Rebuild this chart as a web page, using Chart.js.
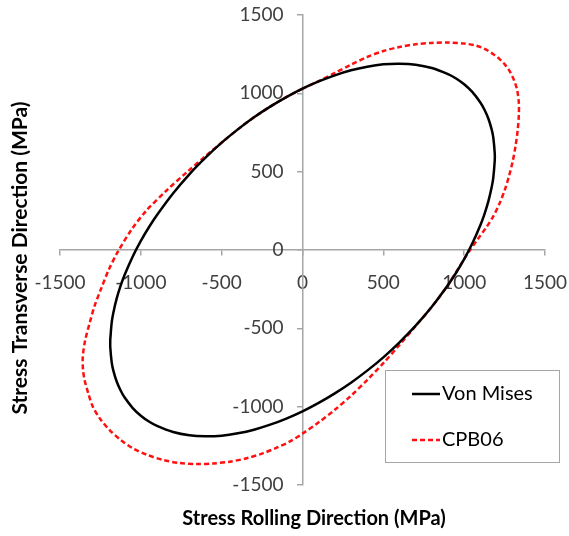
<!DOCTYPE html>
<html>
<head>
<meta charset="utf-8">
<script src="https://cdn.jsdelivr.net/npm/chart.js@4.4.0/dist/chart.umd.min.js"></script>
<style>
  html, body { margin: 0; padding: 0; background: #fff; }
  #wrap { width: 569px; height: 536px; }
</style>
</head>
<body>
<div id="wrap"><canvas id="yieldChart" width="569" height="536"></canvas></div>
<script>
// ===================================
// DATA
// ===================================

const tickValues = [-1500, -1000, -500, 0, 500, 1000, 1500];

// Von Mises locus, upper branch left -> right, then lower branch right -> left
const vonMisesX = [-1189, -1180, -1170, -1150, -1125, -1100, -1050, -1000, -950, -900, -800, -700, -600, -500, -400, -300, -200, -100, 0, 100, 200, 300, 400, 500, 600, 700, 800, 900, 950, 1000, 1050, 1100, 1125, 1150, 1170, 1180, 1189,
  1189, 1180, 1170, 1150, 1125, 1100, 1050, 1000, 950, 900, 800, 700, 600, 500, 400, 300, 200, 100, 0, -100, -200, -300, -400, -500, -600, -700, -800, -900, -950, -1000, -1050, -1100, -1125, -1150, -1170, -1180, -1189, -1189];
const vonMisesY = [-570, -461, -400, -312, -228, -158, -41, 58, 145, 223, 362, 483, 589, 685, 770, 847, 915, 976, 1030, 1076, 1115, 1147, 1170, 1185, 1189, 1183, 1162, 1123, 1095, 1058, 1009, 942, 897, 838, 770, 719, 620,
  570, 461, 400, 312, 228, 158, 41, -58, -145, -223, -362, -483, -589, -685, -770, -847, -915, -976, -1030, -1076, -1115, -1147, -1170, -1185, -1189, -1183, -1162, -1123, -1095, -1058, -1009, -942, -897, -838, -770, -719, -620, -570];

// CPB06 locus, counter-clockwise from the top of the y axis
const cpbX = [0, -100, -200, -300, -400, -483, -599, -712, -841, -967, -1059, -1142, -1198, -1245, -1287, -1317, -1345, -1359, -1358, -1348, -1325, -1297, -1250, -1193, -1125, -1049, -960, -863, -760, -656, -550, -449, -340, -243, -160, -77,
  0, 100, 200, 300, 400, 500, 600, 700, 800, 900, 1000, 1040, 1088, 1136, 1180, 1218, 1250, 1277, 1300, 1318, 1331, 1338, 1338, 1328, 1310, 1285, 1255, 1220, 1180, 1130, 1075, 1000, 900, 800, 700, 600, 500, 400, 300, 200, 100, 0];
const cpbY = [1030, 976, 915, 847, 770, 700, 600, 500, 380, 250, 128, -11, -125, -245, -360, -468, -580, -681, -760, -830, -915, -1000, -1080, -1149, -1212, -1266, -1308, -1340, -1360, -1366, -1362, -1351, -1328, -1297, -1262, -1222,
  -1172, -1100, -1020, -930, -830, -722, -606, -485, -362, -223, -58, 5, 75, 143, 215, 295, 380, 470, 565, 665, 765, 860, 940, 1020, 1080, 1135, 1180, 1218, 1250, 1282, 1304, 1318, 1324, 1322, 1313, 1296, 1270, 1232, 1183, 1130, 1078, 1030];

const seriesNames = ['Von Mises', 'CPB06'];
const xTitle = 'Stress Rolling Direction (MPa)';
const yTitle = 'Stress Transverse Direction (MPa)';

// ===================================
// HELPERS
// ===================================

function toPoints(xs, ys) {
  return xs.map((x, i) => ({ x: x, y: ys[i] }));
}

const axisGray = '#a6a6a6';
const tickColor = '#404040';
const tickFont = { family: 'Lato', size: 19 };

// both axes sit in the middle, so keep their label overhang out of the layout
function noScalePadding(scale) {
  scale.paddingLeft = 0;
  scale.paddingRight = 0;
  scale.paddingTop = 0;
  scale.paddingBottom = 0;
}

// y tick labels: right aligned a little left of the centred y axis
const yLabelsPlugin = {
  id: 'yLabels',
  afterDraw(chart) {
    const ctx = chart.ctx;
    const xs = chart.scales.x;
    const ys = chart.scales.y;
    const right = xs.getPixelForValue(0) - 19;
    ctx.save();
    ctx.fillStyle = tickColor;
    ctx.font = tickFont.size + 'px ' + tickFont.family;
    ctx.textAlign = 'right';
    ctx.textBaseline = 'middle';
    ys.ticks.forEach(t => {
      ctx.fillText(String(t.value), right, ys.getPixelForValue(t.value));
    });
    ctx.restore();
  }
};

// axis titles drawn by hand
const titlesPlugin = {
  id: 'titles',
  afterDraw(chart) {
    const ctx = chart.ctx;
    ctx.save();
    ctx.fillStyle = '#000';
    ctx.textAlign = 'center';
    ctx.textBaseline = 'middle';
    ctx.font = 'bold 20px Lato';
    ctx.fillText(xTitle, 314, 519);
    ctx.translate(20, 258);
    ctx.rotate(-Math.PI / 2);
    ctx.font = 'bold 21px Lato';
    ctx.fillText(yTitle, 0, 0);
    ctx.restore();
  }
};

// boxed legend in the lower right corner
const boxLegendPlugin = {
  id: 'boxLegend',
  afterDraw(chart) {
    const ctx = chart.ctx;
    ctx.save();
    ctx.strokeStyle = axisGray;
    ctx.lineWidth = 1;
    ctx.fillStyle = '#fff';
    ctx.fillRect(385.5, 370.5, 174, 92);
    ctx.strokeRect(385.5, 370.5, 174, 92);
    const rows = [394, 440];
    chart.data.datasets.forEach((ds, i) => {
      const y = rows[i];
      ctx.strokeStyle = ds.borderColor;
      ctx.lineWidth = ds.borderWidth;
      ctx.setLineDash(ds.borderDash || []);
      ctx.beginPath();
      ctx.moveTo(412, y);
      ctx.lineTo(440, y);
      ctx.stroke();
      ctx.setLineDash([]);
      ctx.fillStyle = '#000';
      ctx.font = '20px Lato';
      ctx.textAlign = 'left';
      ctx.textBaseline = 'middle';
      ctx.fillText(ds.label, 442, y);
    });
    ctx.restore();
  }
};

// ===================================
// CHART
// ===================================

const ctx = document.getElementById('yieldChart');
new Chart(ctx, {
  type: 'scatter',
  data: {
    datasets: [
      {
        label: seriesNames[0],
        data: toPoints(vonMisesX, vonMisesY),
        showLine: true,
        borderColor: '#000000',
        borderWidth: 2.5,
        pointRadius: 0,
        tension: 0.3,
        fill: false
      },
      {
        label: seriesNames[1],
        data: toPoints(cpbX, cpbY),
        showLine: true,
        borderColor: '#ff1010',
        borderWidth: 2.5,
        borderDash: [5, 3],
        pointRadius: 0,
        tension: 0.3,
        fill: false
      }
    ]
  },
  options: {
    responsive: false,
    animation: false,
    layout: { padding: { left: 60, right: 24, top: 15, bottom: 51 } },
    plugins: {
      legend: { display: false },
      tooltip: { enabled: false }
    },
    scales: {
      x: {
        type: 'linear',
        position: { y: 0 },
        min: -1500,
        max: 1500,
        afterBuildTicks: (axis) => { axis.ticks = tickValues.map(v => ({ value: v })); },
        afterFit: noScalePadding,
        ticks: { font: tickFont, color: tickColor, padding: 16, autoSkip: false, maxRotation: 0, callback: (v) => String(v) },
        grid: { drawOnChartArea: false, drawTicks: true, tickLength: 5, color: axisGray, lineWidth: 1.5 },
        border: { color: axisGray, width: 1.5 }
      },
      y: {
        type: 'linear',
        position: { x: 0 },
        min: -1500,
        max: 1500,
        afterBuildTicks: (axis) => { axis.ticks = tickValues.map(v => ({ value: v })); },
        afterFit: noScalePadding,
        ticks: { display: false, autoSkip: false },
        grid: { drawOnChartArea: false, drawTicks: true, tickLength: 5, color: axisGray, lineWidth: 1.5 },
        border: { color: axisGray, width: 1.5 }
      }
    }
  },
  plugins: [yLabelsPlugin, titlesPlugin, boxLegendPlugin]
});
</script>
</body>
</html>
